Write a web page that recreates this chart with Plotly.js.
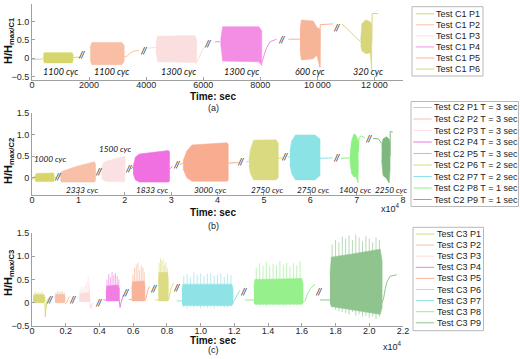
<!DOCTYPE html>
<html><head><meta charset="utf-8">
<script src="https://cdn.plot.ly/plotly-3.0.1.min.js"></script>
<style>html,body{margin:0;padding:0;background:#fff}#chart{width:520px;height:359px}</style>
</head><body><div id="chart"></div><script>
// ---------- (a) Test C1, time in seconds ----------
const namesA = ['Test C1 P1','Test C1 P2','Test C1 P3','Test C1 P4','Test C1 P5','Test C1 P6'];
const colorsA = ['#d6d66e','#f8bfa4','#fbdede','#f38ee4','#f7b597','#d8d67a'];
const cycA = ['1100 cyc','1100 cyc','1300 cyc','1300 cyc','600 cyc','320 cyc'];
const xTickValsA = [0,2000,4000,6000,8000,10000,12000];
const xTickTextA = ['0','2000','4000','6000','8000','10\u2009000','12\u2009000'];
// connecting lines before / after each loading block (null splits them)
const lineXA = [
  [0,330,400,null,1440,1700],
  [3230,3330,3450,3600,3740],
  [4040,4345,null,5770,5850,5950,6050],
  [6413,6612,null,8050,8120,8200,8340,8570],
  [8982,9390,null,10090,10100,10550],
  [10852,11027,11378,11518,null,11903,11920,12130]
];
const lineYA = [
  [-0.03,-0.03,0.02,null,0.02,0.03],
  [0.03,0.05,0.15,0.2,0.21],
  [0.27,0.3,null,-0.1,0.0,0.2,0.32],
  [0.45,0.45,null,-0.14,0.05,0.25,0.45,0.52],
  [0.52,0.52,null,-0.25,0.92,0.94],
  [0.94,0.82,0.55,0.45,null,0.4,1.23,1.22]
];
// envelope of the cyclic response in each block
const bandXA = [
  [400,430,1410,1440],
  [2040,2100,3150,3230],
  [4345,4400,5700,5770],
  [6612,6680,7950,8050],
  [9390,9440,9850,9980,10090],
  [11518,11560,11700,11850,11903]
];
const bandHiA = [
  [0.1,0.15,0.15,0.08],
  [0.3,0.43,0.43,0.35],
  [0.4,0.6,0.62,0.5],
  [0.5,0.86,0.86,0.75],
  [0.75,1.05,1.02,0.85,0.8],
  [0.5,0.95,1.05,1.0,0.9]
];
const bandLoA = [
  [-0.05,-0.13,-0.13,-0.05],
  [-0.05,-0.18,-0.18,-0.08],
  [0.2,-0.1,-0.12,-0.15],
  [0.4,-0.08,-0.1,-0.2],
  [0.25,-0.05,-0.02,0.08,-0.25],
  [0.35,0.2,0.12,0.15,-0.33]
];

// ---------- (b) Test C2, time in seconds (x10^4) ----------
const namesB = ['Test C2 P1 T = 3 sec','Test C2 P2 T = 3 sec','Test C2 P3 T = 3 sec','Test C2 P4 T = 3 sec','Test C2 P5 T = 3 sec','Test C2 P6 T = 2 sec','Test C2 P7 T = 2 sec','Test C2 P8 T = 1 sec','Test C2 P9 T = 1 sec'];
const colorsB = ['#d6d66c','#f8c0a6','#fbe1e1','#f070e2','#f8ad90','#dadb80','#8ce3e6','#8df081','#7fb87f'];
const cycB = ['1000 cyc','2333 cyc','1500 cyc','1833 cyc','3000 cyc','2750 cyc','2750 cyc','1400 cyc','2250 cyc'];
const xTickValsB = [0,10000,20000,30000,40000,50000,60000,70000,80000];
const xTickTextB = ['0','1','2','3','4','5','6','7','8'];
const lineXB = [
  [0,300,500,800,null,4750,5200],
  [5900,6100],
  [14700,15000],
  [21300,21800,null,29650,30300],
  [31900,32600,null,42300,44500],
  [46200,46800,null,53100,54000],
  [55200,55600,null,62100,64800],
  [66550,68560,null,70360,70500,71000,71800],
  [73590,74670,75390,null,77200,77250,77800]
];
const lineYB = [
  [-0.03,-0.03,0.03,0.03,null,0.0,0.0],
  [0.03,0.05],
  [0.14,0.2],
  [0.2,0.25,null,0.2,0.27],
  [0.3,0.35,null,0.34,0.35],
  [0.37,0.38,null,0.45,0.46],
  [0.47,0.5,null,0.45,0.46],
  [0.45,0.46,null,0.6,0.93,0.97,0.92],
  [0.91,0.9,0.8,null,0.5,1.07,1.06]
];
const bandXB = [
  [600,900,4500,4750],
  [6100,6300,9500,13500,13700],
  [15000,15300,16000,20000,20100],
  [21800,22300,23200,29400,29650],
  [32600,33400,34500,42000,42300],
  [46800,47100,47800,52600,53100],
  [55600,56000,56800,61000,62100],
  [68560,68900,69400,69900,70300,70360],
  [75400,75700,76400,77000,77200]
];
const bandHiB = [
  [0.0,0.1,0.11,0.1],
  [0.05,0.14,0.26,0.37,0.3],
  [0.2,0.33,0.38,0.5,0.45],
  [0.25,0.48,0.55,0.63,0.6],
  [0.4,0.62,0.76,0.81,0.78],
  [0.42,0.65,0.87,0.88,0.8],
  [0.6,0.85,0.99,0.99,0.9],
  [0.5,0.85,1.02,0.98,0.85,0.6],
  [0.75,0.9,0.95,0.9,0.8]
];
const bandLoB = [
  [-0.05,-0.09,-0.09,-0.08],
  [-0.02,-0.1,-0.1,-0.1,-0.05],
  [0.0,-0.05,-0.09,-0.09,-0.05],
  [0.1,-0.05,-0.1,-0.1,-0.08],
  [0.2,0.0,-0.08,-0.08,-0.06],
  [0.28,0.1,-0.05,-0.05,0.0],
  [0.3,0.1,-0.05,-0.05,0.05],
  [0.4,0.1,0.02,0.02,-0.12,0.3],
  [0.4,0.05,-0.01,-0.12,0.2]
];

// ---------- (c) Test C3, time in seconds (x10^4) ----------
const namesC = ['Test C3 P1','Test C3 P2','Test C3 P3','Test C3 P4','Test C3 P5','Test C3 P6','Test C3 P7','Test C3 P8','Test C3 P9'];
const colorsC = ['#d8d878','#f8c0a8','#fbdcdc','#f27ee4','#f8b49a','#dcdc84','#8fe3e6','#96f08c','#8fc48f'];
const xTickValsC = [0,2000,4000,6000,8000,10000,12000,14000,16000,18000,20000,22000];
const xTickTextC = ['0','0.2','0.4','0.6','0.8','1.0','1.2','1.4','1.6','1.8','2.0','2.2'];
const lineXC = [
  [770,790,830,900,1000],
  [1960,2050,2150,2220],
  [3440,3480,3550,3650],
  [4230,4390,null,5180,5220,5280,5360,5420],
  [5750,5910,null,6700,6780,6880,6960],
  [7300,7490,null,8080,8150,8260,8380],
  [8580,8890,null,11920,12050,12200,12330],
  [12630,13160,null,16070,16200,16350,16500,16780],
  [17080,17670,null,20760,20850,20950,21050,21230,21630]
];
const lineYC = [
  [0.0,-0.3,-0.1,0.05,0.1],
  [-0.02,0.0,0.08,0.13],
  [0.0,-0.12,-0.05,0.0],
  [0.06,0.06,null,0.05,-0.1,0.0,0.12,0.17],
  [0.07,0.07,null,0.05,0.12,0.28,0.35],
  [0.06,0.06,null,0.05,0.15,0.32,0.42],
  [0.04,0.04,null,0.0,0.08,0.2,0.27],
  [0.06,0.06,null,0.0,0.05,0.2,0.3,0.4],
  [0.06,0.06,null,0.0,0.1,0.3,0.45,0.57,0.6]
];
const bandXC = [
  [60,150,700,770],
  [1360,1420,1900,1960],
  [2800,2850,3400,3440],
  [4390,4430,5100,5180],
  [5910,5960,6650,6700],
  [7490,7530,8040,8080],
  [8890,8950,11850,11920],
  [13160,13220,16000,16070],
  [17670,17750,19000,20650,20760]
];
const bandHiC = [
  [0.12,0.17,0.17,0.12],
  [0.12,0.18,0.18,0.12],
  [0.1,0.2,0.22,0.1],
  [0.2,0.36,0.38,0.3],
  [0.3,0.45,0.47,0.35],
  [0.45,0.65,0.65,0.5],
  [0.3,0.4,0.4,0.3],
  [0.35,0.5,0.52,0.4],
  [0.6,0.98,1.05,1.15,0.9]
];
const bandLoC = [
  [0.02,0.0,0.0,0.02],
  [0.02,0.0,0.0,0.02],
  [0.03,0.02,0.02,0.03],
  [0.05,0.04,0.04,0.05],
  [0.05,0.04,0.04,0.05],
  [0.05,0.04,0.04,0.05],
  [-0.02,-0.06,-0.06,-0.02],
  [0.0,-0.03,-0.03,0.0],
  [0.0,-0.08,-0.15,-0.25,-0.1]
];
// individual load peaks rising above / below each block
const spikeXC = [
  [100,200,300,400,500,600,700],
  [1420,1520,1620,1720,1820,1920],
  [2850,2950,3050,3150,3250,3330,3400],
  [4450,4550,4650,4750,4850,4950,5050,5150],
  [5980,6080,6180,6280,6380,6480,6580,6660],
  [7540,7620,7700,7780,7860,7940,8020],
  [9000,9200,9400,9600,9800,10000,10200,10400,10600,10800,11000,11200,11400,11600,11800],
  [13300,13500,13700,13900,14100,14300,14500,14700,14900,15100,15300,15500,15700,15900],
  [17800,18000,18200,18400,18600,18800,19000,19200,19400,19600,19800,20000,20200,20400,20600]
];
const spikeHiC = [
  [0.2,0.24,0.22,0.23,0.21,0.24,0.2],
  [0.22,0.25,0.23,0.26,0.24,0.22],
  [0.28,0.35,0.3,0.38,0.45,0.56,0.4],
  [0.5,0.62,0.55,0.66,0.6,0.64,0.58,0.5],
  [0.6,0.75,0.82,0.86,0.7,0.8,0.76,0.65],
  [0.85,0.95,0.9,0.93,0.8,0.88,0.75],
  [0.58,0.62,0.55,0.65,0.6,0.63,0.57,0.62,0.64,0.58,0.6,0.63,0.56,0.62,0.6],
  [0.75,0.85,0.8,0.88,0.78,0.84,0.8,0.9,0.82,0.86,0.78,0.85,0.8,0.9],
  [1.25,1.35,1.3,1.42,1.38,1.45,1.35,1.46,1.4,1.32,1.44,1.38,1.3,1.4,1.35]
];
const spikeLoC = [
  [0.02,0.0,0.0,0.02,0.0,0.0,0.02],
  [0.0,0.0,0.0,0.0,0.0,0.02],
  [0.02,0.02,0.02,0.02,0.02,0.02,0.02],
  [0.04,0.04,0.04,0.04,0.04,0.04,0.04,0.04],
  [0.04,0.04,0.04,0.04,0.04,0.04,0.04,0.04],
  [0.04,0.04,0.04,0.04,0.04,0.04,0.04],
  [-0.1,-0.12,-0.08,-0.11,-0.1,-0.12,-0.09,-0.11,-0.1,-0.12,-0.09,-0.1,-0.11,-0.1,-0.08],
  [-0.05,-0.06,-0.05,-0.07,-0.05,-0.06,-0.05,-0.06,-0.07,-0.05,-0.06,-0.05,-0.06,-0.05],
  [-0.1,-0.15,-0.18,-0.2,-0.22,-0.25,-0.2,-0.28,-0.25,-0.3,-0.28,-0.32,-0.3,-0.35,-0.3]
];

// ---------- drawing helpers ----------
const W = 520, H = 359;
const fx = p => p / W;          // pixel -> paper x
const fy = p => 1 - p / H;      // pixel -> paper y
const traces = [];

function addBlocks(xa, ya, names, colors, lx, ly, bx, bhi, blo) {
  names.forEach((n, i) => {
    traces.push({type:'scatter', mode:'lines', name:n, x:lx[i], y:ly[i], xaxis:xa, yaxis:ya,
      line:{color:colors[i], width:1}, showlegend:false, hoverinfo:'skip'});
    traces.push({type:'scatter', mode:'lines', name:n, xaxis:xa, yaxis:ya,
      x:bx[i].concat(bx[i].slice().reverse()), y:bhi[i].concat(blo[i].slice().reverse()),
      fill:'toself', fillcolor:colors[i], line:{color:colors[i], width:0.6},
      showlegend:false, hoverinfo:'skip'});
  });
}
function addSpikes(xa, ya, names, colors, sx, slo, shi) {
  names.forEach((n, i) => {
    const x = [], y = [];
    sx[i].forEach((v, k) => { x.push(v, v, null); y.push(slo[i][k], shi[i][k], null); });
    traces.push({type:'scatter', mode:'lines', name:n, x, y, xaxis:xa, yaxis:ya, opacity:0.7,
      line:{color:colors[i], width:0.9}, showlegend:false, hoverinfo:'skip'});
  });
}

addBlocks('x','y', namesA, colorsA, lineXA, lineYA, bandXA, bandHiA, bandLoA);
addBlocks('x2','y2', namesB, colorsB, lineXB, lineYB, bandXB, bandHiB, bandLoB);
addSpikes('x3','y3', namesC, colorsC, spikeXC, spikeLoC, spikeHiC);
addBlocks('x3','y3', namesC, colorsC, lineXC, lineYC, bandXC, bandHiC, bandLoC);

const tickFont = {family:'Liberation Sans, Arial, sans-serif', size:9, color:'#262626'};
const axisCommon = {showgrid:false, zeroline:false, showline:true, linecolor:'#a0a0a0', linewidth:1,
  ticks:'inside', ticklen:3, tickcolor:'#a0a0a0', tickfont:tickFont, fixedrange:true};
const xCommon = Object.assign({}, axisCommon, {ticklabelstandoff:-4});
const xDom = [fx(32), fx(403)];
const yTicks = [-0.5,0,0.5,1,1.5], yText = ['\u22120.5','0','0.5','1.0','1.5'];

const annotations = [], shapes = [];
const cycFontA = {family:'Lato, sans-serif', size:9, color:'#111', style:'italic'};
const cycFontB = {family:'Lato, sans-serif', size:8.2, color:'#111', style:'italic'};
function addText(xa, ya, items, texts, font) {
  items.forEach((p, i) => annotations.push({xref:xa, yref:ya, x:p[0], y:p[1], text:texts ? texts[i] : '//',
    showarrow:false, font:font || cycFontA, xanchor:'center', yanchor:'middle'}));
}
addText('x','y', [[981,-0.38],[2803,-0.38],[5116,-0.38],[7348,-0.38],[9741,-0.38],[11785,-0.38]], cycA);
addText('x','y', [[1741,0.09],[3900,0.21],[6143,0.41],[8750,0.5],[10677,0.85]]);
addText('x2','y2', [[3880,0.435],[10780,-0.28],[17900,0.67],[25870,-0.28],[38380,-0.28],[50670,-0.28],[60580,-0.28],[69640,-0.28],[77400,-0.28]], cycB, cycFontB);
addText('x2','y2', [[5540,0.03],[14300,0.14],[20910,0.22],[31200,0.31],[45060,0.37],[54550,0.49],[65690,0.47],[72520,0.9]]);
addText('x3','y3', [[1067,0.08],[2410,0.07],[3930,0.0],[5515,0.21],[7180,0.3],[8570,0.33],[12530,0.24],[16980,0.24]]);

function paperText(x, y, text, font, extra) {
  annotations.push(Object.assign({xref:'paper', yref:'paper', x:fx(x), y:fy(y), text, showarrow:false,
    font, xanchor:'center', yanchor:'middle'}, extra || {}));
}
const boldFont = {family:'Liberation Sans, Arial, sans-serif', size:10, color:'#111', weight:'bold'};
const plainFont = {family:'Liberation Sans, Arial, sans-serif', size:9, color:'#222'};
const ytFont = {family:'Liberation Sans, Arial, sans-serif', size:11, color:'#111'};
[[97,108,'(a)'],[212,226,'(b)'],[340,350,'(c)']].forEach(r => {
  paperText(213, r[0], '<b>Time: sec</b>', boldFont);
  paperText(213, r[1], r[2], plainFont);
});
paperText(390, 208, 'x10<sup>4</sup>', plainFont);
paperText(392, 346, 'x10<sup>4</sup>', plainFont);
[[41,'C1'],[161,'C2'],[273,'C3']].forEach(r =>
  paperText(9, r[0], '<b>H/H<sub>max/' + r[1] + '</sub></b>', ytFont, {textangle:-90}));

// legend boxes
const legFont = {family:'Liberation Sans, Arial, sans-serif', size:9, color:'#222'};
function legendBox(names, colors, box, first, step, l0, l1, tx) {
  shapes.push({type:'rect', xref:'paper', yref:'paper', x0:fx(box[0]), x1:fx(box[1]), y0:fy(box[3]), y1:fy(box[2]),
    line:{color:'#b8b8b8', width:1}, fillcolor:'#ffffff', layer:'above'});
  names.forEach((n, i) => {
    const yy = first + i * step;
    shapes.push({type:'line', xref:'paper', yref:'paper', x0:fx(l0), x1:fx(l1), y0:fy(yy), y1:fy(yy),
      line:{color:colors[i], width:1}, layer:'above'});
    annotations.push({xref:'paper', yref:'paper', x:fx(tx), y:fy(yy), text:n, showarrow:false,
      font:legFont, xanchor:'left', yanchor:'middle', xshift:-2});
  });
}
legendBox(namesA, colorsA, [412,483,6.7,76], 13.8, 11.05, 415.7, 434.3, 436);
legendBox(namesB, colorsB, [411,518.5,101.5,206.5], 107.5, 11.5, 413.3, 431.7, 434);
legendBox(namesC, colorsC, [413,483.5,227.3,330.7], 234, 11.1, 415.7, 434.3, 436.7);

const layout = {
  width:W, height:H, margin:{l:0,r:0,t:0,b:0}, paper_bgcolor:'#fff', plot_bgcolor:'rgba(0,0,0,0)',
  showlegend:false,
  xaxis: Object.assign({}, xCommon, {domain:xDom, anchor:'y', range:[0,13000], tickvals:xTickValsA, ticktext:xTickTextA}),
  yaxis: Object.assign({}, axisCommon, {domain:[fy(80), fy(3.5)], anchor:'x', range:[-0.6,1.5], tickvals:yTicks, ticktext:yText}),
  xaxis2: Object.assign({}, xCommon, {domain:xDom, anchor:'y2', range:[0,80000], tickvals:xTickValsB, ticktext:xTickTextB}),
  yaxis2: Object.assign({}, axisCommon, {domain:[fy(195), fy(113)], anchor:'x2', range:[-0.4,1.5], tickvals:yTicks, ticktext:yText}),
  xaxis3: Object.assign({}, xCommon, {domain:xDom, anchor:'y3', range:[0,22000], tickvals:xTickValsC, ticktext:xTickTextC}),
  yaxis3: Object.assign({}, axisCommon, {domain:[fy(326), fy(233)], anchor:'x3', range:[-0.5,1.5], tickvals:yTicks, ticktext:yText}),
  annotations, shapes
};
Plotly.newPlot('chart', traces, layout, {displayModeBar:false, staticPlot:true});
</script></body></html>
